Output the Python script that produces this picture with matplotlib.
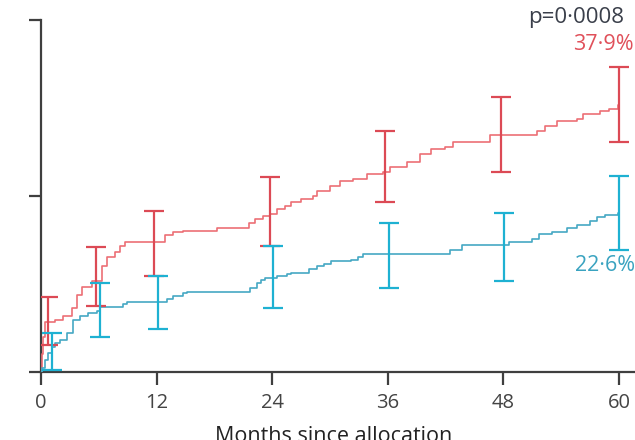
import matplotlib
matplotlib.use("Agg")
import matplotlib.pyplot as plt
import numpy as np

plt.rcParams["font.family"] = ["Open Sans", "DejaVu Sans"]

# Cumulative incidence (%) over months since allocation, Kaplan-Meier style steps
red_months = [0, 0.1, 0.25, 0.45, 1.5, 2.3, 3.2, 3.7, 4.3, 5.3,
              6.3, 6.85, 7.7, 8.2, 8.7, 12.9, 13.7, 14.7, 18.3, 21.6,
              22.2, 23.0, 23.8, 24.5, 25.3, 26.0, 27.0, 28.2, 28.7, 30.0,
              31.0, 32.4, 33.8, 35.5, 36.2, 38.0, 39.3, 40.5, 41.9, 42.8,
              46.6, 51.5, 52.3, 53.6, 55.6, 56.3, 58.0, 59.0, 59.9, 60.0]
red_pct = [0, 2.5, 5.0, 7.1, 7.4, 7.9, 9.1, 11.0, 12.1, 12.9,
           15.0, 16.4, 17.1, 17.9, 18.4, 19.4, 19.9, 20.0, 20.4, 21.1,
           21.7, 22.1, 22.4, 23.1, 23.6, 24.1, 24.6, 25.0, 25.7, 26.4,
           27.1, 27.4, 28.1, 28.4, 29.1, 29.9, 31.0, 31.7, 32.0, 32.7,
           33.7, 34.3, 35.0, 35.7, 36.0, 36.7, 37.1, 37.4, 37.9, 37.9]

cyan_months = [0, 0.1, 0.4, 0.7, 1.1, 1.45, 2.0, 2.7, 3.3, 4.0,
               4.9, 5.8, 6.1, 8.5, 8.9, 13.1, 13.7, 14.7, 15.2, 21.7,
               22.4, 22.8, 23.3, 24.5, 25.5, 25.9, 27.8, 28.6, 29.4, 30.1,
               32.2, 32.9, 33.4, 42.5, 43.7, 48.6, 51.0, 51.7, 53.0, 54.6,
               55.6, 57.0, 57.7, 58.5, 59.9, 60.0]
cyan_pct = [0, 0.6, 1.7, 2.7, 3.6, 4.1, 4.6, 5.6, 7.4, 7.9,
            8.4, 8.7, 9.3, 9.7, 9.9, 10.4, 10.8, 11.2, 11.4, 12.0,
            12.7, 13.1, 13.4, 13.6, 13.9, 14.1, 14.7, 15.0, 15.3, 15.7,
            15.9, 16.4, 16.8, 17.4, 18.0, 18.4, 18.9, 19.6, 19.9, 20.4,
            20.9, 21.4, 22.0, 22.3, 22.6, 22.6]

# 95% CI at selected time points
ci_months = [1, 6, 12, 24, 36, 48, 60]
red_lo = [3.9, 9.4, 13.7, 17.9, 24.1, 28.4, 32.7]
red_hi = [10.6, 17.7, 22.9, 27.7, 34.3, 39.1, 43.3]
cyan_lo = [0.3, 5.0, 6.1, 9.1, 12.0, 12.9, 17.3]
cyan_hi = [5.5, 12.6, 13.7, 17.9, 21.1, 22.6, 27.9]

x_ticks = [0, 12, 24, 36, 48, 60]
y_ticks = [0, 25, 50]

RED_LINE = "#ec6f76"
RED_BAR = "#dc4a55"
CYAN_LINE = "#45a8c4"
CYAN_BAR = "#1eb1d2"
AXIS = "#3f3f3f"

fig = plt.figure(figsize=(6.35, 4.40), dpi=100)
ax = fig.add_axes([41 / 635, 1 - 372 / 440, 1 - 41 / 635, (372 - 20) / 440])

ax.step(red_months, red_pct, where="post", color=RED_LINE, lw=1.2, zorder=3)
ax.step(cyan_months, cyan_pct, where="post", color=CYAN_LINE, lw=1.2, zorder=3)


def draw_ci(months, lo, hi, shift, color):
    m = np.asarray(months, float)
    lo = np.asarray(lo)
    hi = np.asarray(hi)
    xs = np.where(m < 60, m + shift, m)
    mid = (lo + hi) / 2
    ax.errorbar(xs, mid, yerr=[mid - lo, hi - mid], fmt="none", ecolor=color,
                elinewidth=1.6, capsize=7.5, capthick=1.6, zorder=4)


draw_ci(ci_months, red_lo, red_hi, -0.25, RED_BAR)
draw_ci(ci_months, cyan_lo, cyan_hi, 0.1, CYAN_BAR)

ax.set_xlim(0, (635 - 41) / (578 / 60))
ax.set_ylim(0, 50)
ax.set_xticks(x_ticks)
ax.set_xticklabels([str(t) for t in x_ticks])
ax.set_yticks(y_ticks)
ax.set_yticklabels([])

for side in ("top", "right"):
    ax.spines[side].set_visible(False)
for side in ("left", "bottom"):
    ax.spines[side].set_color(AXIS)
    ax.spines[side].set_linewidth(1.6)
ax.tick_params(axis="both", colors=AXIS, width=1.6, length=9, labelsize=14.5, pad=6)
ax.tick_params(axis="x", labelcolor="#444444")

ax.set_xlabel("Months since allocation", fontsize=15.5, color="#222222")
ax.xaxis.set_label_coords((334 - 41) / (635 - 41), -(426 - 372) / 352)
ax.xaxis.label.set_va("top")

ax.text(50.6, 50.3, "p=0·0008", fontsize=16, color="#3a3f4a",
        ha="left", va="center", clip_on=False)
ax.text(55.2, 46.5, "37·9%", fontsize=15.5, color="#e0505a",
        ha="left", va="center", clip_on=False)
ax.text(55.4, 15.1, "22·6%", fontsize=15.5, color="#3aa3c0",
        ha="left", va="center", clip_on=False)

fig.savefig("out.png", dpi=100)
